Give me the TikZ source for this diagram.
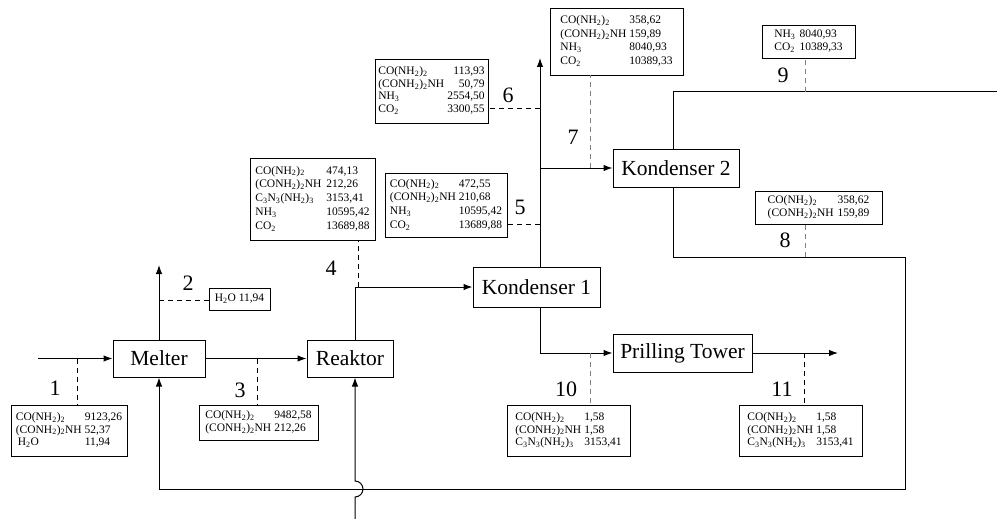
\documentclass[tikz,border=0pt]{standalone}
\usepackage{fontspec}
\setmainfont{Liberation Serif}
\usepackage{tikz}
\usetikzlibrary{positioning, arrows.meta}

\newcommand{\urea}{CO(NH\textsubscript{2})\textsubscript{2}}
\newcommand{\biuret}{(CONH\textsubscript{2})\textsubscript{2}NH}
\newcommand{\melamine}{C\textsubscript{3}N\textsubscript{3}(NH\textsubscript{2})\textsubscript{3}}
\newcommand{\ammonia}{NH\textsubscript{3}}
\newcommand{\carbdiox}{CO\textsubscript{2}}
\newcommand{\water}{H\textsubscript{2}O}

\tikzset{
    unit/.style={draw, line width=1pt, inner sep=0pt, font=\fontsize{21.5}{24}\selectfont},
    tbl/.style={draw, line width=0.8pt, inner sep=0pt, font=\fontsize{11.5}{12.5}\selectfont},
    num/.style={inner sep=0pt, font=\fontsize{22}{24}\selectfont},
    tag/.style={line width=0.8pt, dash pattern=on 5pt off 4pt},
    flow/.style={line width=1pt, ->},
}

\begin{document}
\begin{tikzpicture}[x=1pt, y=-1pt, >={Latex[length=9pt, width=6.5pt]}]
    \useasboundingbox (0,0) rectangle (997,519);

    % Unit blocks
    \node[unit, minimum width=92, minimum height=37] (melter) at (159,358.5) {Melter};
    \node[unit, minimum width=86, minimum height=37] (reaktor) at (350,358.5) {Reaktor};
    \node[unit, minimum width=127, minimum height=40] (kond1) at (536.5,287) {Kondenser 1};
    \node[unit, minimum width=126, minimum height=38] (kond2) at (676,168) {Kondenser 2};
    \node[unit, minimum width=139, minimum height=38] (prill) at (682.5,353) {Prilling Tower};

    % Free ends and taps of the streams
    \coordinate (feed) at (38,358.5);
    \coordinate (vapor) at (159,265);
    \coordinate (gasout) at (540,58);
    \coordinate (offgas) at (997,92);
    \coordinate (product) at (838,353);
    \coordinate (recyc) at (355,519);
    \coordinate (c8) at (905,257);
    \coordinate (c9) at (905,489);
    \coordinate (hop) at (355,497);

    % Process streams
    \draw[flow] (feed) -- (melter.west);
    \draw[flow] (melter.north) -- (vapor);
    \draw[flow] (melter.east) -- (reaktor.west);
    \draw[flow] ([xshift=5]reaktor.north) |- (kond1.west);
    \draw[flow] ([xshift=3.5]kond1.north) -- (gasout);
    \draw[flow] ([xshift=3.5]kond1.north |- kond2.west) -- (kond2.west);
    \draw[flow] ([xshift=3.5]kond1.south) |- (prill.west);
    \draw[flow] (prill.east) -- (product);
    \draw[line width=1pt] ([xshift=-3]kond2.north) |- (offgas);
    \draw[flow] ([xshift=-3]kond2.south) |- (c8) -- (c9) -| (melter.south);
    \draw[flow] (recyc) -- (hop) arc (90:-90:8) -- ([xshift=5]reaktor.south);

    % Stream tables
    \node[tbl, minimum width=116, minimum height=51] (t1) at (69,430.5) {%
        \begin{tabular}{@{}l@{\hspace{3pt}}l@{}}
            \urea & 9123,26 \\ \biuret & 52,37 \\ \hspace{2pt}\water & 11,94
        \end{tabular}};
    \node[tbl, minimum width=61, minimum height=22] (t2) at (239.5,299) {\water\ 11,94};
    \node[tbl, minimum width=119, minimum height=35] (t3) at (258.5,422.5) {%
        \begin{tabular}{@{}l@{\hspace{3pt}}l@{}}
            \urea & 9482,58 \\ \biuret & 212,26
        \end{tabular}};
    \node[tbl, minimum width=125, minimum height=82, font=\fontsize{11.5}{13.8}\selectfont] (t4) at (312.5,199) {%
        \begin{tabular}{@{}l@{\hspace{5pt}}l@{}}
            \urea & 474,13 \\ \biuret & 212,26 \\ \melamine & 3153,41 \\
            \ammonia & 10595,42 \\ \carbdiox & 13689,88
        \end{tabular}};
    \node[tbl, minimum width=122, minimum height=64, font=\fontsize{11.5}{13.8}\selectfont] (t5) at (446,205) {%
        \begin{tabular}{@{}l@{\hspace{3pt}}l@{}}
            \urea & 472,55 \\ \biuret & 210,68 \\ \ammonia & 10595,42 \\ \carbdiox & 13689,88
        \end{tabular}};
    \node[tbl, minimum width=113, minimum height=64] (t6) at (431.5,91) {%
        \begin{tabular}{@{}l@{\hspace{3pt}}r@{}}
            \urea & 113,93 \\ \biuret & 50,79 \\ \ammonia & 2554,50 \\ \carbdiox & 3300,55
        \end{tabular}};
    \node[tbl, minimum width=133, minimum height=67, font=\fontsize{11.5}{13.5}\selectfont] (t7) at (616.5,41.5) {%
        \begin{tabular}{@{}l@{\hspace{3pt}}l@{}}
            \urea & 358,62 \\ \biuret & 159,89 \\ \ammonia & 8040,93 \\ \carbdiox & 10389,33
        \end{tabular}};
    \node[tbl, minimum width=127, minimum height=33] (t8) at (818.5,207.5) {%
        \begin{tabular}{@{}l@{\hspace{4pt}}r@{}}
            \urea & 358,62 \\ \biuret & 159,89
        \end{tabular}};
    \node[tbl, minimum width=93, minimum height=33] (t9) at (808.5,41.5) {%
        \begin{tabular}{@{}l@{\hspace{4pt}}l@{}}
            \ammonia & 8040,93 \\ \carbdiox & 10389,33
        \end{tabular}};
    \node[tbl, minimum width=123, minimum height=51] (t10) at (568.5,430.5) {%
        \begin{tabular}{@{}l@{\hspace{3pt}}l@{}}
            \urea & 1,58 \\ \biuret & 1,58 \\ \melamine & 3153,41
        \end{tabular}};
    \node[tbl, minimum width=123, minimum height=51] (t11) at (800.5,430.5) {%
        \begin{tabular}{@{}l@{\hspace{3pt}}l@{}}
            \urea & 1,58 \\ \biuret & 1,58 \\ \melamine & 3153,41
        \end{tabular}};

    % Stream numbers
    \foreach \n/\x/\y in {1/55/388, 2/188/283, 3/240/390, 4/331/268, 5/520/207,
                          6/508/95, 7/573/137, 8/785/240, 9/783/75, 10/566/389, 11/782/389}
        \node[num] (n\n) at (\x,\y) {\n};

    % Taps to the tables
    \coordinate (s1) at (77,358.5);
    \coordinate (s2) at (159,300);
    \coordinate (s3) at (257,358.5);
    \coordinate (s4) at (358,287);
    \coordinate (s5) at (540,224);
    \coordinate (s6) at (540,108);
    \coordinate (s7) at (590,168);
    \coordinate (s8) at (805,257);
    \coordinate (s9) at (805,92);
    \coordinate (s10) at (590,353);
    \coordinate (s11) at (804,353);
    \draw[tag] (s1) -- (s1 |- t1.north);
    \draw[tag] (s2) -- (s2 -| t2.west);
    \draw[tag] (s3) -- (s3 |- t3.north);
    \draw[tag] (s4) -- (s4 |- t4.south);
    \draw[tag] (s5) -- (s5 -| t5.east);
    \draw[tag] (s6) -- (s6 -| t6.east);
    \draw[tag, gray] (s7) -- (s7 |- t7.south);
    \draw[tag, gray] (s8) -- (s8 |- t8.south);
    \draw[tag, gray] (s9) -- (s9 |- t9.south);
    \draw[tag, gray] (s10) -- (s10 |- t10.north);
    \draw[tag] (s11) -- (s11 |- t11.north);
\end{tikzpicture}
\end{document}
